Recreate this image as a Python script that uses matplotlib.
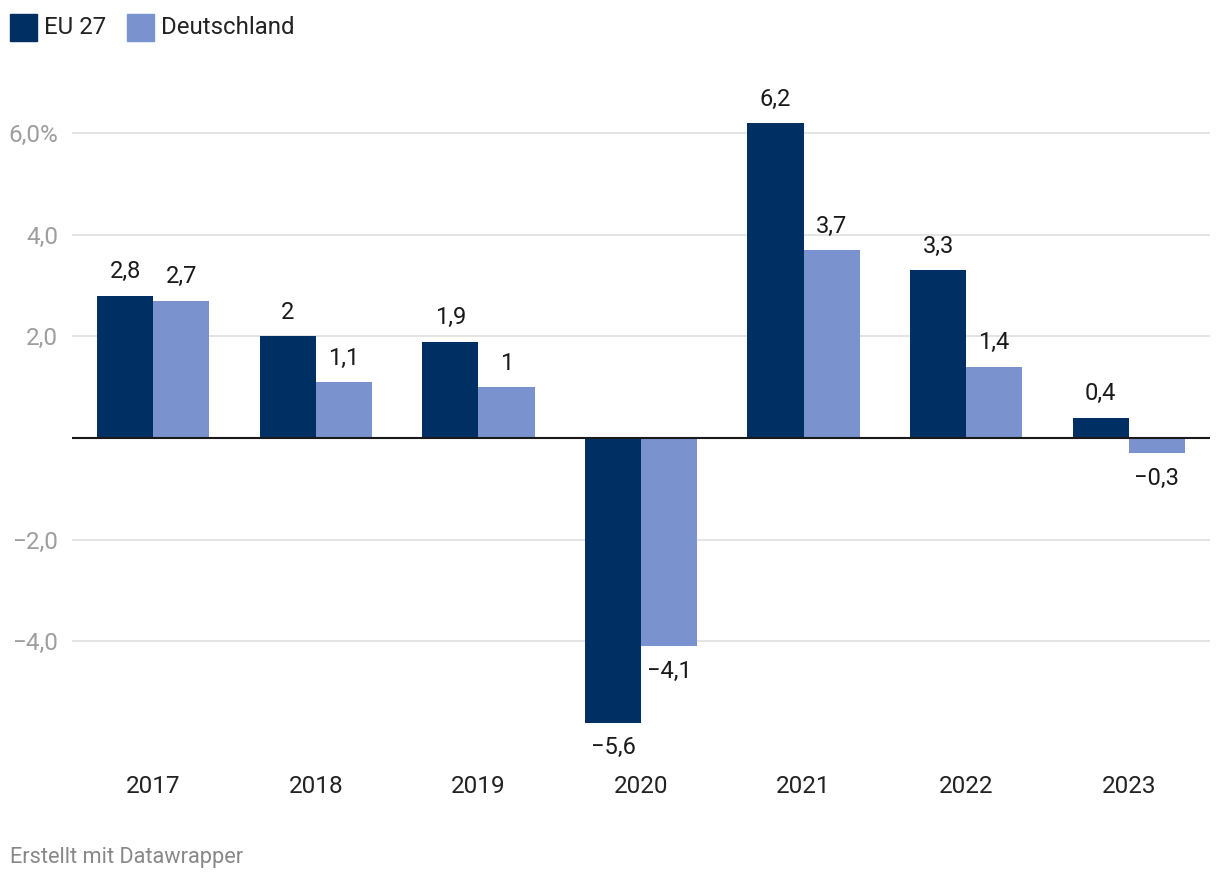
import matplotlib.pyplot as plt
import numpy as np

plt.rcParams['font.family'] = ['Roboto', 'DejaVu Sans']

years = ['2017', '2018', '2019', '2020', '2021', '2022', '2023']
eu27 = [2.8, 2.0, 1.9, -5.6, 6.2, 3.3, 0.4]
deutschland = [2.7, 1.1, 1.0, -4.1, 3.7, 1.4, -0.3]
yticks = [-4, -2, 2, 4, 6]
ytick_labels = ['\u22124,0', '\u22122,0', '2,0', '4,0', '6,0%']

c_eu = '#003063'
c_de = '#7a93cf'

fig = plt.figure(figsize=(12.2, 8.82), dpi=100)
ax = fig.add_axes([72 / 1220, 1 - 753 / 882, 1138 / 1220, (753 - 92.6) / 882])

x = np.arange(len(years))
w = 0.345
ax.bar(x - w / 2, eu27, w, color=c_eu, zorder=2)
ax.bar(x + w / 2, deutschland, w, color=c_de, zorder=2)


def fmt(v):
    s = ('%.1f' % abs(v)).replace('.', ',')
    if s.endswith(',0'):
        s = s[:-2]
    return ('\u2212' if v < 0 else '') + s


for xs, vals in [(x - w / 2, eu27), (x + w / 2, deutschland)]:
    for xi, v in zip(xs, vals):
        if v >= 0:
            ax.annotate(fmt(v), (xi, v), xytext=(0, 9), textcoords='offset points',
                        ha='center', va='bottom', fontsize=17, color='#1a1a1a')
        else:
            ax.annotate(fmt(v), (xi, v), xytext=(0, -10), textcoords='offset points',
                        ha='center', va='top', fontsize=17, color='#1a1a1a')

ax.set_xlim(-0.5, 6.5)
ax.set_ylim(-6.2, 6.8)
for t in yticks:
    ax.axhline(t, color='#e2e2e2', lw=1.3, zorder=0)
ax.axhline(0, color='#1a1a1a', lw=1.5, zorder=3)

ax.set_yticks(yticks)
ax.set_yticklabels(ytick_labels, fontsize=17.5, color='#9e9e9e')
ax.set_xticks(x)
ax.set_xticklabels(years, fontsize=17.5, color='#222222')
ax.tick_params(axis='y', length=0, pad=10)
ax.tick_params(axis='x', length=0, pad=16)
for s in ax.spines.values():
    s.set_visible(False)

# legend
fig.patches.append(plt.Rectangle((10 / 1220, 1 - 41 / 882), 27 / 1220, 27 / 882,
                                 transform=fig.transFigure, color=c_eu))
fig.text(44 / 1220, 1 - 28 / 882, 'EU 27', fontsize=17.3, color='#222222', va='center')
fig.patches.append(plt.Rectangle((127 / 1220, 1 - 41 / 882), 27 / 1220, 27 / 882,
                                 transform=fig.transFigure, color=c_de))
fig.text(161 / 1220, 1 - 28 / 882, 'Deutschland', fontsize=17.3, color='#222222', va='center')

fig.text(10 / 1220, 1 - 857 / 882, 'Erstellt mit Datawrapper', fontsize=15.7, color='#888888', va='center')

fig.savefig('out.png', dpi=100)
